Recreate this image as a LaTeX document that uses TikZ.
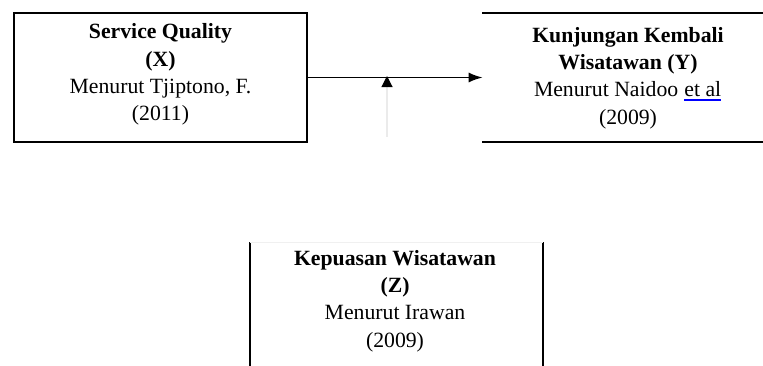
\documentclass[tikz,border=0pt]{standalone}
\usepackage{fontspec}
\setmainfont{Liberation Serif}
\usetikzlibrary{arrows.meta}
\definecolor{linkblue}{RGB}{0,0,255}
\begin{document}
\begin{tikzpicture}[x=0.75pt,y=-0.75pt,
  frame/.style={draw=black,line width=1.6pt,inner sep=0pt},
  edge/.style={line width=1.6pt,line cap=rect},
  label/.style={align=center,inner sep=0pt,font=\fontsize{16.3}{20.5}\selectfont},
  link/.style={line width=1.4pt,-{Latex[length=10.5pt,width=7.5pt]}},
  modlink/.style={draw=black!8,line width=0.8pt,-{Triangle[length=8.25pt,width=8.25pt,color=black]}}]
\useasboundingbox (0,0) rectangle (763,365);
% box X
\node[frame,minimum width=219.75pt,minimum height=96.75pt] (X) at (160.5,77.5) {};
\node[label] (Xt) at (160.5,74.5) {\textbf{Service Quality}\\\textbf{(X)}\\Menurut Tjiptono, F.\\(2011)};
% box Y (partly outside)
\node[inner sep=0pt,minimum width=217.5pt,minimum height=96.75pt] (Y) at (628,77.5) {};
\draw[edge] (Y.north west) -- (Y.north east);
\draw[edge] (Y.south west) -- (Y.south east);
\node[label] (Yt) at (628,78) {\textbf{Kunjungan Kembali}\\\textbf{Wisatawan (Y)}\\Menurut Naidoo \tikz[baseline=(ea.base)]{\node[inner sep=0pt,outer sep=0pt] (ea) {et al}; \draw[draw=linkblue,line width=1.1pt] ([yshift=-2.4pt]ea.base west) -- ([yshift=-2.4pt]ea.base east);}\\(2009)};
% box Z (partly outside)
\node[inner sep=0pt,minimum width=219.75pt,minimum height=99pt] (Z) at (396.5,309) {};
\draw[edge] (Z.north west) -- (Z.south west);
\draw[edge] (Z.north east) -- (Z.south east);
\draw[black!6,line width=0.8pt] (Z.north west) -- (Z.north east);
\node[label] (Zt) at (395,301) {\textbf{Kepuasan Wisatawan}\\\textbf{(Z)}\\Menurut Irawan\\(2009)};
% connectors
\draw[link] (X.east) -- (Y.west);
\coordinate (mb) at (387,137);
\coordinate (mt) at (387,76);
\draw[modlink] (mb) -- (mt);
\end{tikzpicture}
\end{document}
